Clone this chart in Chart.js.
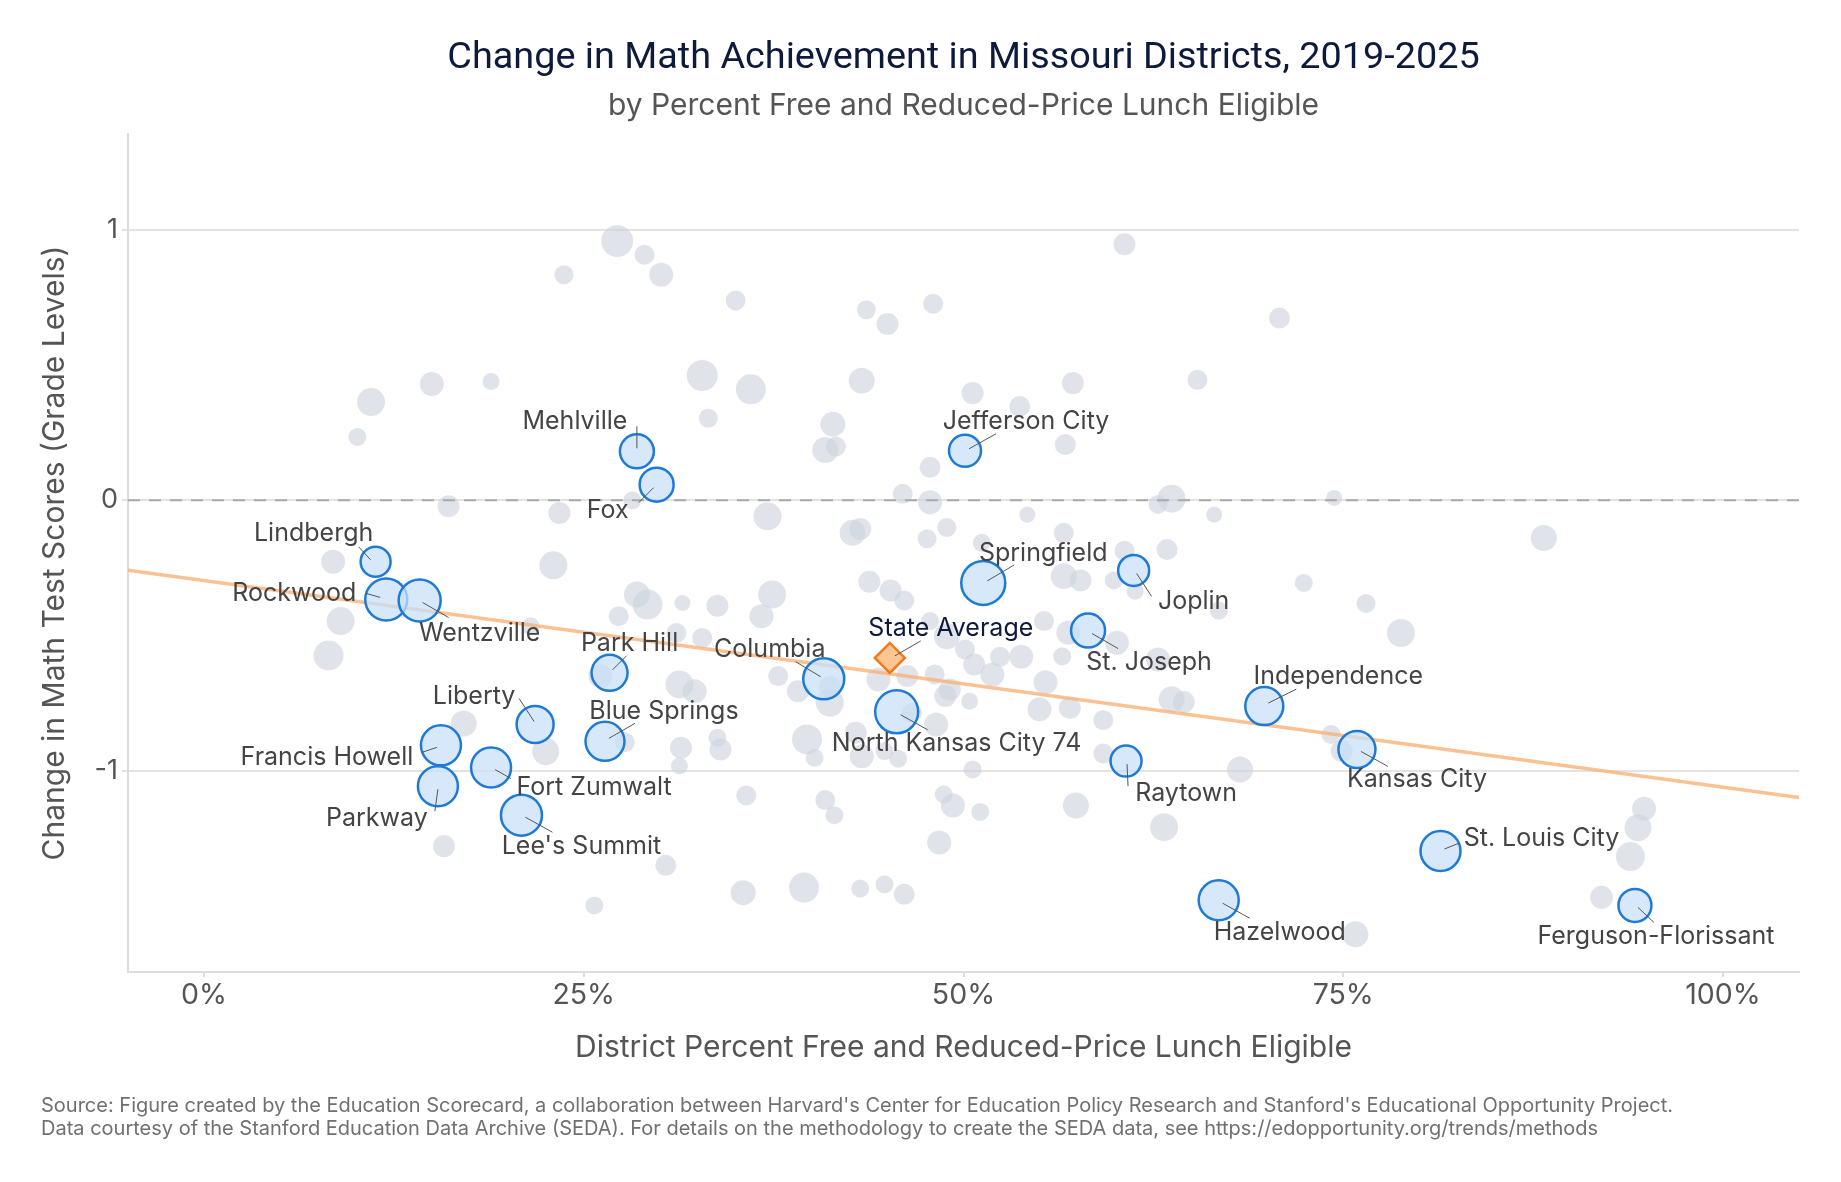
<!DOCTYPE html>
<html>
<head>
<meta charset="utf-8">
<script src="https://cdn.jsdelivr.net/npm/chart.js@4.4.1/dist/chart.umd.min.js"></script>
<style>
  html, body { margin: 0; padding: 0; background: #fff; }
  #wrap { width: 1841px; height: 1182px; position: relative; }
</style>
</head>
<body>
<div id="wrap"><canvas id="chart"></canvas></div>
<script>
// highlighted districts: FRL share, change in grade levels, bubble size
const districtNames = ["Lindbergh", "Rockwood", "Wentzville", "Mehlville", "Fox", "Jefferson City", "Springfield", "Joplin", "St. Joseph", "Park Hill", "Columbia", "North Kansas City 74", "Blue Springs", "Liberty", "Francis Howell", "Fort Zumwalt", "Parkway", "Lee's Summit", "Raytown", "Independence", "Kansas City", "St. Louis City", "Hazelwood", "Ferguson-Florissant"];
const districtFrl = [0.113, 0.120, 0.142, 0.285, 0.298, 0.501, 0.513, 0.612, 0.582, 0.267, 0.408, 0.456, 0.264, 0.218, 0.156, 0.189, 0.154, 0.209, 0.607, 0.698, 0.759, 0.814, 0.668, 0.942];
const districtChange = [-0.227, -0.366, -0.370, 0.181, 0.058, 0.183, -0.305, -0.259, -0.481, -0.637, -0.659, -0.781, -0.890, -0.828, -0.905, -0.987, -1.056, -1.163, -0.963, -0.760, -0.920, -1.295, -1.477, -1.496];
const districtSize = [15, 21, 21, 17, 17, 16, 22, 15.5, 17, 18, 20.5, 21.5, 19.5, 18.5, 20, 20, 20, 20.5, 15.5, 19, 18.5, 20, 20, 16.5];

// all other districts
const otherFrl = [0.272, 0.290, 0.301, 0.237, 0.110, 0.101, 0.150, 0.189, 0.161, 0.234, 0.282, 0.085, 0.230, 0.285, 0.292, 0.315, 0.273, 0.090,
  0.350, 0.436, 0.450, 0.480, 0.606, 0.708, 0.328, 0.360, 0.433, 0.332, 0.414, 0.409, 0.416, 0.506, 0.572, 0.537, 0.654, 0.567, 0.478, 0.460, 0.478, 0.637, 0.628, 0.665, 0.542, 0.371, 0.427, 0.432, 0.489, 0.476, 0.566, 0.512, 0.606, 0.634, 0.566, 0.577, 0.599, 0.613, 0.668, 0.438, 0.452, 0.461, 0.338, 0.374, 0.367, 0.553,
  0.744, 0.882, 0.724, 0.765, 0.788,
  0.742, 0.749, 0.682, 0.948, 0.944, 0.939, 0.920, 0.758,
  0.082, 0.215, 0.311, 0.261, 0.313, 0.171, 0.225, 0.277, 0.314, 0.313, 0.158, 0.304, 0.257,
  0.328, 0.323, 0.378, 0.391, 0.412, 0.444, 0.463, 0.481, 0.488, 0.491, 0.504, 0.482, 0.466, 0.501, 0.507, 0.519, 0.524, 0.538, 0.565, 0.554, 0.550, 0.570, 0.592, 0.569, 0.601, 0.628, 0.637, 0.645, 0.592, 0.574, 0.632, 0.484, 0.493, 0.487, 0.511, 0.506, 0.397, 0.402, 0.433, 0.448, 0.457, 0.429, 0.338, 0.340, 0.357, 0.409, 0.415, 0.355, 0.395, 0.432, 0.448, 0.461,
  0.478, 0.489, 0.412];
const otherChange = [0.958, 0.907, 0.833, 0.833, 0.363, 0.234, 0.430, 0.439, -0.022, -0.047, 0.000, -0.227, -0.240, -0.348, -0.385, -0.379, -0.428, -0.446,
  0.738, 0.704, 0.651, 0.726, 0.946, 0.673, 0.461, 0.410, 0.442, 0.303, 0.281, 0.186, 0.199, 0.396, 0.433, 0.347, 0.445, 0.206, 0.122, 0.024, -0.007, 0.006, -0.015, -0.053, -0.053, -0.059, -0.120, -0.106, -0.100, -0.142, -0.120, -0.157, -0.186, -0.182, -0.280, -0.296, -0.296, -0.336, -0.407, -0.301, -0.333, -0.370, -0.389, -0.348, -0.428, -0.446,
  0.009, -0.139, -0.305, -0.381, -0.490,
  -0.865, -0.926, -0.994, -1.139, -1.209, -1.315, -1.466, -1.603,
  -0.573, -0.465, -0.490, -0.649, -0.680, -0.824, -0.928, -0.893, -0.914, -0.981, -1.277, -1.348, -1.496,
  -0.508, -0.705, -0.649, -0.705, -0.748, -0.662, -0.649, -0.643, -0.723, -0.699, -0.742, -0.828, -0.785, -0.551, -0.606, -0.643, -0.578, -0.578, -0.576, -0.672, -0.772, -0.766, -0.812, -0.489, -0.526, -0.588, -0.735, -0.745, -0.935, -1.127, -1.207, -1.264, -1.127, -1.086, -1.151, -0.994, -0.883, -0.951, -0.945, -0.926, -0.954, -0.858, -0.877, -0.920, -1.090, -1.107, -1.163, -1.449, -1.430, -1.434, -1.418, -1.455,
  -0.446, -0.502, -0.689];
const otherSize = [16, 10, 12, 9.5, 14, 9, 12, 8.5, 11, 11, 9, 12, 14, 13, 15, 8, 10, 14,
  10, 9.5, 11, 10, 11, 10.5, 15.5, 15, 13, 9.5, 12.5, 13, 10, 11, 11, 10.5, 10, 10.5, 10.5, 10, 12, 14, 9.5, 8, 8, 14, 13, 11, 9.5, 9.5, 10, 9, 10, 10.5, 13, 11, 9, 8.5, 9, 11, 11, 10, 11, 14, 12, 10,
  8, 13, 9, 9.5, 14,
  9.5, 11, 13, 12, 13.5, 14.5, 11.5, 13,
  15, 9, 10, 12, 14, 13, 13.5, 10, 11, 8.5, 11, 10.5, 9,
  10, 12, 10, 11, 14, 12, 11, 10, 11, 11, 8.5, 12, 10, 10, 11, 12, 10, 12, 9, 12, 12, 11, 10, 12, 12, 12, 13, 11, 10, 13, 14, 12, 12, 9, 9, 9, 15, 9, 12, 9, 9, 11, 9, 11, 10, 10, 9, 12.5, 15, 9, 9, 10.5,
  9, 13, 11];

const stateAverage = { frl: 0.4515, change: -0.582 };
const trendFrl = [-0.05, 1.05];
const trendChange = [-0.258, -1.098];
const zeroLine = [0, 0];
const xTicks = [0, 0.25, 0.5, 0.75, 1];
const yTicks = [-1, 0, 1];

// label text offset [dx, baseline dy] and leader line [x1, y1, x2, y2], px from bubble centre
const labelPlacement = {
  "Lindbergh": { text: [-62, -21], leader: [-17, -15, -5, -2] },
  "Rockwood": { text: [-92, 2], leader: [-20, -6, -6, -2] },
  "Wentzville": { text: [60, 40], leader: [3, 2, 29, 17] },
  "Mehlville": { text: [-62, -22], leader: [0, -25, 0, -3] },
  "Fox": { text: [-49, 33], leader: [-18, 18, -3, 3] },
  "Jefferson City": { text: [61, -22], leader: [31, -17, 4, -2] },
  "Springfield": { text: [60, -22], leader: [31, -18, 4, -2] },
  "Joplin": { text: [60, 39], leader: [3, 3, 18, 26] },
  "St. Joseph": { text: [61, 39], leader: [4, 3, 30, 18] },
  "Park Hill": { text: [20, -22], leader: [17, -17, 3, -3] },
  "Columbia": { text: [-54, -22], leader: [-28, -17, -3, -2] },
  "North Kansas City 74": { text: [60, 39], leader: [4, 3, 31, 18] },
  "Blue Springs": { text: [59, -22], leader: [30, -18, 4, -3] },
  "Liberty": { text: [-61, -21], leader: [-16, -26, -1, -3] },
  "Francis Howell": { text: [-114, 20], leader: [-19, 7, -4, 2] },
  "Fort Zumwalt": { text: [103, 27], leader: [4, 2, 20, 11] },
  "Parkway": { text: [-61, 40], leader: [0, 3, -3, 25] },
  "Lee's Summit": { text: [60, 39], leader: [4, 2, 31, 17] },
  "Raytown": { text: [60, 40], leader: [1, 3, 2, 25] },
  "Independence": { text: [74, -22], leader: [32, -17, 4, -3] },
  "Kansas City": { text: [60, 38], leader: [4, 2, 31, 17] },
  "St. Louis City": { text: [101, -5], leader: [4, -2, 19, -8] },
  "Hazelwood": { text: [61, 40], leader: [4, 3, 31, 18] },
  "Ferguson-Florissant": { text: [21, 39], leader: [3, 2, 19, 17] },
};
const stateLabel = { text: [61, -22], leader: [31, -17, 5, -2] };

const districtPoints = districtNames.map((n, i) => ({ x: districtFrl[i], y: districtChange[i], r: districtSize[i] }));
const otherPoints = otherFrl.map((v, i) => ({ x: v, y: otherChange[i], r: otherSize[i] }));

const annotate = {
	id: "annotate",
	afterDatasetsDraw(chart) {
		const ctx = chart.ctx;
		const drawLabel = (el, name, p, color) => {
			ctx.strokeStyle = "#555";
			ctx.lineWidth = 1;
			ctx.beginPath();
			ctx.moveTo(el.x + p.leader[0], el.y + p.leader[1]);
			ctx.lineTo(el.x + p.leader[2], el.y + p.leader[3]);
			ctx.stroke();
			ctx.fillStyle = color;
			ctx.fillText(name, el.x + p.text[0], el.y + p.text[1]);
		};
		ctx.save();
		ctx.font = "25px Inter";
		ctx.textAlign = "center";
		ctx.textBaseline = "alphabetic";
		const meta = chart.getDatasetMeta(3);
		districtNames.forEach((name, i) => drawLabel(meta.data[i], name, labelPlacement[name], "#444"));
		drawLabel(chart.getDatasetMeta(4).data[0], "State Average", stateLabel, "#0e1a3c");
		ctx.restore();
	},
	afterDraw(chart) {
		const ctx = chart.ctx;
		const area = chart.chartArea;
		const cx = (area.left + area.right) / 2;
		ctx.save();
		ctx.textAlign = "center";
		ctx.textBaseline = "alphabetic";
		ctx.fillStyle = "#0e1a3c";
		ctx.font = "37.8px Roboto";
		ctx.fillText("Change in Math Achievement in Missouri Districts, 2019-2025", cx, 68);
		ctx.fillStyle = "#555";
		ctx.font = "30px Inter";
		ctx.fillText("by Percent Free and Reduced-Price Lunch Eligible", cx, 115);
		ctx.fillText("District Percent Free and Reduced-Price Lunch Eligible", cx, 1057);
		ctx.save();
		ctx.translate(55, (area.top + area.bottom) / 2);
		ctx.rotate(-Math.PI / 2);
		ctx.textBaseline = "middle";
		ctx.fillText("Change in Math Test Scores (Grade Levels)", 0, 0);
		ctx.restore();
		ctx.textAlign = "left";
		ctx.fillStyle = "#707070";
		ctx.font = "20px Inter";
		ctx.fillText("Source: Figure created by the Education Scorecard, a collaboration between Harvard's Center for Education Policy Research and Stanford's Educational Opportunity Project.", 41, 1112);
		ctx.fillText("Data courtesy of the Stanford Education Data Archive (SEDA). For details on the methodology to create the SEDA data, see https://edopportunity.org/trends/methods", 41, 1135);
		ctx.restore();
	},
};

Chart.defaults.font.family = "Inter";

const data = {
	datasets: [
		{
			label: "Other districts",
			data: otherPoints,
			backgroundColor: "rgba(205, 212, 221, 0.62)",
			borderWidth: 0,
			order: 5,
		},
		{
			type: "line",
			label: "Zero",
			data: trendFrl.map((v, i) => ({ x: v, y: zeroLine[i] })),
			borderColor: "#a9a9a9",
			borderWidth: 2,
			borderDash: [12, 9],
			pointRadius: 0,
			fill: false,
			order: 4,
		},
		{
			type: "line",
			label: "Trend",
			data: trendFrl.map((v, i) => ({ x: v, y: trendChange[i] })),
			borderColor: "rgba(249, 178, 120, 0.8)",
			borderWidth: 3.5,
			pointRadius: 0,
			fill: false,
			order: 3,
		},
		{
			label: "Highlighted districts",
			data: districtPoints,
			backgroundColor: "rgba(200, 224, 247, 0.75)",
			borderColor: "#1f7ad6",
			borderWidth: 2.5,
			order: 2,
		},
		{
			type: "scatter",
			label: "State Average",
			data: [{ x: stateAverage.frl, y: stateAverage.change }],
			pointStyle: "rectRot",
			pointRadius: 15,
			backgroundColor: "#fdc592",
			borderColor: "#f07a1a",
			borderWidth: 2.5,
			order: 1,
		},
	],
};

const options = {
	responsive: true,
	maintainAspectRatio: false,
	animation: false,
	events: [],
	layout: {
		padding: { left: 0, right: 42, top: 134, bottom: 110 },
	},
	plugins: {
		legend: { display: false },
		tooltip: { enabled: false },
	},
	scales: {
		x: {
			type: "linear",
			min: -0.05,
			max: 1.05,
			afterBuildTicks: (scale) => { scale.ticks = xTicks.map((v) => ({ value: v })); },
			afterFit: (scale) => { scale.height = 100; },
			grid: { drawOnChartArea: false, drawTicks: true, tickLength: 5, color: "#dcdcdc", lineWidth: 2 },
			border: { display: true, color: "#dcdcdc", width: 2 },
			ticks: {
				padding: 4,
				color: "#555",
				maxRotation: 0,
				autoSkip: false,
				font: { size: 28.5, lineHeight: 1 },
				callback: (v) => Math.round(v * 100) + "%",
			},
		},
		y: {
			type: "linear",
			min: -1.742,
			max: 1.353,
			afterBuildTicks: (scale) => { scale.ticks = yTicks.map((v) => ({ value: v })); },
			afterFit: (scale) => { scale.width = 128; },
			grid: { color: "#e3e3e3", lineWidth: 2, tickLength: 6 },
			border: { display: true, color: "#dcdcdc", width: 2 },
			ticks: {
				padding: 4,
				color: "#555",
				font: { size: 27 },
				callback: (v) => String(v),
			},
		},
	},
};

new Chart(document.querySelector("#chart"), {
	type: "bubble",
	data,
	options,
	plugins: [annotate],
});
</script>
</body>
</html>
